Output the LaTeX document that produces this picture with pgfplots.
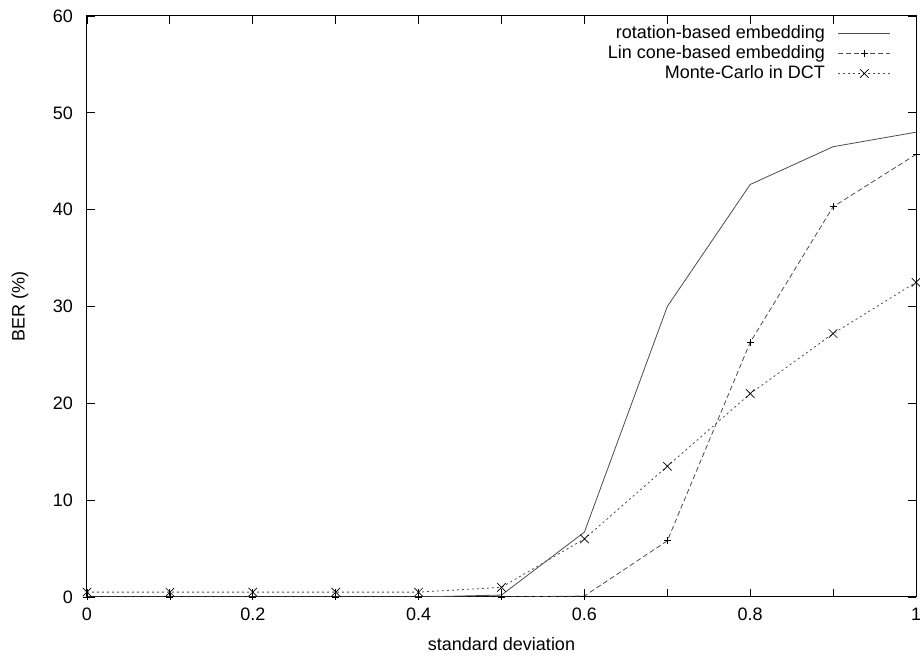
\documentclass[border=0pt]{standalone}
\usepackage{fontspec}
\setmainfont{Liberation Sans}
\usepackage{pgfplots}
\pgfplotsset{compat=1.18}

\begin{document}
\fontsize{18bp}{20bp}\selectfont
\begin{tikzpicture}
\begin{axis}[
    scale only axis,
    width=829bp, height=581bp,
    xmin=0, xmax=1, ymin=0, ymax=60,
    xtick={0,0.1,0.2,0.3,0.4,0.5,0.6,0.7,0.8,0.9,1},
    xticklabels={0,,0.2,,0.4,,0.6,,0.8,,1},
    ytick={0,10,20,30,40,50,60},
    /pgf/number format/assume math mode=true,
    tick align=inside,
    major tick length=8bp,
    tick style={black, line width=0.8bp},
    axis line style={line width=1bp},
    xticklabel style={inner sep=0pt, yshift=-11bp},
    yticklabel style={inner sep=0pt, xshift=-14bp},
    xlabel={standard deviation},
    ylabel={BER (\%)},
    xlabel style={at={(axis description cs:0.5,0)}, anchor=north, inner sep=0pt, yshift=-40bp},
    ylabel style={at={(axis description cs:-0.081,0.5)}, anchor=center, inner sep=0pt},
    legend cell align=right,
    legend plot pos=right,
    legend style={draw=none, fill=none, at={(1,1)}, anchor=north east,
        xshift=-22bp, yshift=-5bp, row sep=0.5bp},
    legend image code/.code={
        \path (0bp,0bp);
        \draw[mark repeat=2, mark phase=2, #1]
            plot coordinates {(11bp,0bp) (37bp,0bp) (63bp,0bp)};
    },
    every axis plot/.append style={line width=0.8bp, black!70},
    mark options={solid, black, line width=0.7bp},
]

\addplot[mark=none] coordinates {
    (0,0) (0.1,0) (0.2,0) (0.3,0) (0.4,0) (0.5,0.2)
    (0.6,6.7) (0.7,30.0) (0.8,42.6) (0.9,46.5) (1,48.0)
};
\addlegendentry{rotation-based embedding}

\addplot[dash pattern=on 5bp off 3bp, mark=+, mark size=3.5bp] coordinates {
    (0,0) (0.1,0) (0.2,0) (0.3,0) (0.4,0) (0.5,0)
    (0.6,0.1) (0.7,5.8) (0.8,26.3) (0.9,40.3) (1,45.7)
};
\addlegendentry{Lin cone-based embedding}

\addplot[dash pattern=on 2bp off 3bp, mark=x, mark size=6bp] coordinates {
    (0,0.5) (0.1,0.5) (0.2,0.5) (0.3,0.5) (0.4,0.5) (0.5,1.0)
    (0.6,6.0) (0.7,13.5) (0.8,21.0) (0.9,27.2) (1,32.5)
};
\addlegendentry{Monte-Carlo in DCT}

\end{axis}
\pgfresetboundingbox
\path ([xshift=-87bp,yshift=-59bp]current axis.south west)
    rectangle ([xshift=4bp,yshift=16bp]current axis.north east);
\end{tikzpicture}
\end{document}
